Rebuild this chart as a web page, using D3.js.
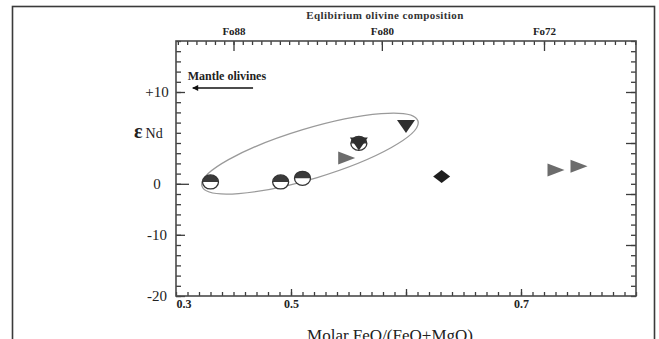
<!DOCTYPE html>
<html>
<head>
<meta charset="utf-8">
<script src="https://cdn.jsdelivr.net/npm/d3@7"></script>
<style>
  body { margin: 0; background: #fff; }
  svg { display: block; font-family: "Liberation Serif", "DejaVu Serif", serif; }
</style>
</head>
<body>
<script>
const w = 659;
const h = 339;

// samples
const sampleType = ["half", "half", "half", "combo", "rightTri", "downTri", "diamond", "rightTri", "rightTri"];
const molarFe = [0.430, 0.491, 0.510, 0.559, 0.548, 0.600, 0.631, 0.730, 0.750];
const epsNd = [0.2, 0.2, 0.6, 4.4, 2.8, 6.3, 0.8, 1.5, 1.9];

// y axis: breaks and how many minor steps sit between them (the original axis is uneven)
const yBreaks = [-20, -10, 0, 10, 15.56];
const yBreakSteps = [0, 6, 11, 20, 25];
const yLabelValues = [-20, -10, 0, 10];
const yLabels = ["-20", "-10", "0", "+10"];

// x axis
const xDomain = [0.4, 0.8];
const xMajor = [0.5, 0.6, 0.7];
const xLabelValues = [0.4, 0.5, 0.7];
const xLabels = ["0.3", "0.5", "0.7"];

// top axis: equilibrium olivine Fo against molar FeO/(FeO+MgO)
const foAnchors = [88, 80, 72];
const foAnchorX = [0.450, 0.579, 0.720];
const foLabels = ["Fo88", "Fo80", "Fo72"];

// grouping ellipse (ends of major axis, in data units)
const ellipseEnds = [[0.4226, -0.46], [0.6104, 6.84]];

// mantle olivines arrow
const arrowFrom = [0.467, 10.44];
const arrowTo = [0.4146, 10.44];

const pLeft = 176, pRight = 636, pTop = 41, pBottom = 296;
const serif = "'Liberation Serif', 'DejaVu Serif', serif";

const svg = d3.select("body").append("svg").attr("width", w).attr("height", h);

// outer frame
svg.append("rect")
  .attr("x", 12.5).attr("y", 6.5)
  .attr("width", 642).attr("height", 340)
  .attr("fill", "none").attr("stroke", "#3a3a3a").attr("stroke-width", 1.6);

const xScale = d3.scaleLinear().domain(xDomain).range([pLeft, pRight]);
const stepScale = d3.scaleLinear().domain([0, 25]).range([pBottom, pTop]);
const yScale = d3.scaleLinear().domain(yBreaks).range(yBreakSteps.map(stepScale));
const foScale = d3.scaleLinear().domain(foAnchors).range(foAnchorX.map(xScale));

const yMinorValues = d3.range(0, 26).map(i => yScale.invert(stepScale(i)));
const xMinorValues = d3.range(40, 81).map(i => i / 100);
const foMinorValues = d3.range(67.5, 91.5, 0.5).filter(f => foScale(f) >= pLeft && foScale(f) <= pRight);

function styleAxis(g) {
  g.attr("font-family", serif);
  g.select(".domain").remove();
  g.selectAll(".tick line").attr("stroke", "#3c3c3c").attr("stroke-width", 1.3);
  g.selectAll("text").attr("fill", "#222");
}

// left axis
svg.append("g").attr("transform", "translate(" + pLeft + ",0)")
  .call(d3.axisLeft(yScale).tickValues(yMinorValues).tickSize(-5).tickFormat(""))
  .call(styleAxis);

const yAxisMajor = svg.append("g").attr("transform", "translate(" + pLeft + ",0)")
  .call(d3.axisLeft(yScale).tickValues(yLabelValues).tickSize(-9)
    .tickFormat((d, i) => yLabels[i]))
  .call(styleAxis);
yAxisMajor.selectAll("text")
  .attr("x", -19).attr("text-anchor", "middle")
  .style("font-size", "15px");
yAxisMajor.selectAll(".tick line").filter(d => d === 0).attr("x2", 13);

// right axis
svg.append("g").attr("transform", "translate(" + pRight + ",0)")
  .call(d3.axisRight(yScale).tickValues(yMinorValues).tickSize(-5).tickFormat(""))
  .call(styleAxis);
svg.append("g").attr("transform", "translate(" + pRight + ",0)")
  .call(d3.axisRight(yScale).tickValues([5, 10, 15, 20].map(i => yScale.invert(stepScale(i))))
    .tickSize(-10).tickFormat(""))
  .call(styleAxis);

// bottom axis
svg.append("g").attr("transform", "translate(0," + pBottom + ")")
  .call(d3.axisBottom(xScale).tickValues(xMinorValues).tickSize(-4).tickFormat(""))
  .call(styleAxis);
svg.append("g").attr("transform", "translate(0," + pBottom + ")")
  .call(d3.axisBottom(xScale).tickValues(xMajor).tickSize(-7).tickFormat(""))
  .call(styleAxis);
const xAxisLabels = svg.append("g").attr("transform", "translate(0," + pBottom + ")")
  .call(d3.axisBottom(xScale).tickValues(xLabelValues).tickSize(0).tickPadding(3)
    .tickFormat((d, i) => xLabels[i]))
  .call(styleAxis);
xAxisLabels.selectAll("text").style("font-size", "12px").style("font-weight", "bold");
xAxisLabels.selectAll("text").filter(d => d === xDomain[0]).attr("text-anchor", "start");

// top axis
svg.append("g").attr("transform", "translate(0," + pTop + ")")
  .call(d3.axisTop(foScale).tickValues(foMinorValues).tickSize(-4).tickFormat(""))
  .call(styleAxis);
const foAxis = svg.append("g").attr("transform", "translate(0," + pTop + ")")
  .call(d3.axisTop(foScale).tickValues(foAnchors).tickSize(-10).tickPadding(6)
    .tickFormat((d, i) => foLabels[i]))
  .call(styleAxis);
foAxis.selectAll("text").style("font-size", "11px").style("font-weight", "bold");

// frame of the plot
svg.append("rect")
  .attr("x", pLeft).attr("y", pTop)
  .attr("width", pRight - pLeft).attr("height", pBottom - pTop)
  .attr("fill", "none").attr("stroke", "#4a4a4a").attr("stroke-width", 1.6);

// titles
svg.append("text")
  .attr("x", 385).attr("y", 19)
  .attr("text-anchor", "middle")
  .style("font-size", "11px").style("font-weight", "bold")
  .style("letter-spacing", "0.4px").attr("fill", "#333")
  .text("Eqlibirium olivine composition");

svg.append("text")
  .attr("x", 390).attr("y", 341)
  .attr("text-anchor", "middle")
  .style("font-size", "17px").attr("fill", "#222")
  .text("Molar FeO/(FeO+MgO)");

const yTitle = svg.append("text")
  .attr("x", 134).attr("y", 138)
  .attr("fill", "#222");
yTitle.append("tspan").style("font-size", "20px").style("font-weight", "bold").text("ε");
yTitle.append("tspan").attr("dx", 3).style("font-size", "14px").text("Nd");

// ellipse around the samples
const e0 = [xScale(ellipseEnds[0][0]), yScale(ellipseEnds[0][1])];
const e1 = [xScale(ellipseEnds[1][0]), yScale(ellipseEnds[1][1])];
const ecx = (e0[0] + e1[0]) / 2, ecy = (e0[1] + e1[1]) / 2;
const erx = Math.hypot(e1[0] - e0[0], e1[1] - e0[1]) / 2;
const eang = Math.atan2(e1[1] - e0[1], e1[0] - e0[0]) * 180 / Math.PI;
svg.append("ellipse")
  .attr("cx", ecx).attr("cy", ecy)
  .attr("rx", erx).attr("ry", 25)
  .attr("transform", "rotate(" + eang + "," + ecx + "," + ecy + ")")
  .attr("fill", "none").attr("stroke", "#9a9a9a").attr("stroke-width", 1.3);

// mantle olivines arrow
svg.append("defs").append("marker")
  .attr("id", "head").attr("viewBox", "0 0 10 10")
  .attr("refX", 9).attr("refY", 5)
  .attr("markerWidth", 7).attr("markerHeight", 6)
  .attr("markerUnits", "userSpaceOnUse")
  .attr("orient", "auto")
  .append("path").attr("d", "M0,0 L10,5 L0,10 Z").attr("fill", "#111");
svg.append("line")
  .attr("x1", xScale(arrowFrom[0])).attr("y1", yScale(arrowFrom[1]))
  .attr("x2", xScale(arrowTo[0])).attr("y2", yScale(arrowTo[1]))
  .attr("stroke", "#111").attr("stroke-width", 1.6)
  .attr("marker-end", "url(#head)");
svg.append("text")
  .attr("x", xScale(arrowTo[0]) - 5).attr("y", yScale(arrowTo[1]) - 8)
  .style("font-size", "12px").style("font-weight", "bold").attr("fill", "#222")
  .text("Mantle olivines");

// symbols
const halfCircle = "M-8,0 A8,7 0 0 1 8,0 Z";
const fullCircle = "M-8,0 A8,7 0 1 1 8,0 A8,7 0 1 1 -8,0 Z";
const rightTri = "M-8,-6.5 L9,0 L-8,6.5 Z";
const downTri = "M-9,-6 L9,-6 L0,7 Z";
const diamond = "M0,-6.5 L8.5,0 L0,6.5 L-8.5,0 Z";

const points = svg.selectAll("g.sample")
  .data(sampleType)
  .enter()
  .append("g")
  .attr("class", "sample")
  .attr("transform", (d, i) => "translate(" + xScale(molarFe[i]) + "," + yScale(epsNd[i]) + ")");

points.each(function(d) {
  const g = d3.select(this);
  if (d === "half" || d === "combo") {
    g.append("path").attr("d", fullCircle).attr("fill", "#fff");
    g.append("path").attr("d", halfCircle).attr("fill", "#3a3a3a");
    g.append("path").attr("d", fullCircle).attr("fill", "none")
      .attr("stroke", "#333").attr("stroke-width", 1.3);
  }
  if (d === "combo" || d === "downTri") {
    g.append("path").attr("d", downTri).attr("fill", "#2e2e2e");
  }
  if (d === "rightTri") {
    g.append("path").attr("d", rightTri).attr("fill", "#6c6c6c");
  }
  if (d === "diamond") {
    g.append("path").attr("d", diamond).attr("fill", "#1e1e1e");
  }
});
</script>
</body>
</html>
